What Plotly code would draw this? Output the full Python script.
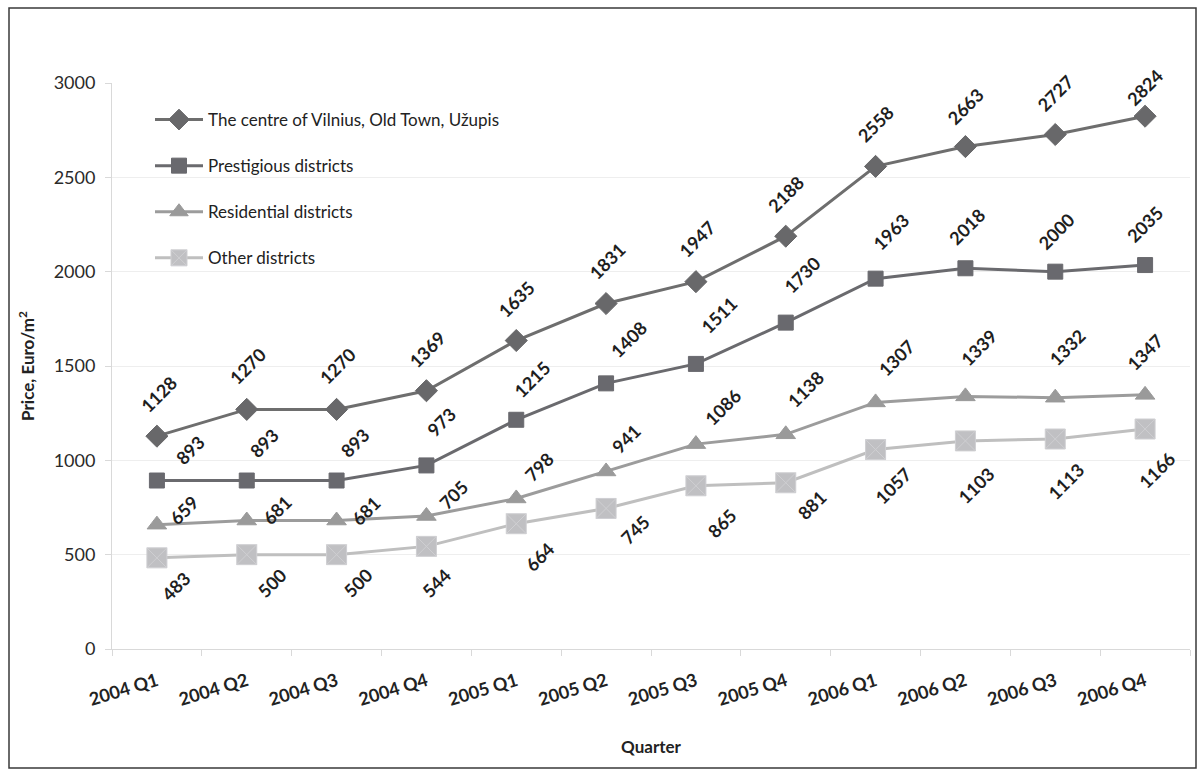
import plotly.graph_objects as go

# Average asking prices of flats in Vilnius, Euro per square metre
quarters = ["2004 Q1", "2004 Q2", "2004 Q3", "2004 Q4",
            "2005 Q1", "2005 Q2", "2005 Q3", "2005 Q4",
            "2006 Q1", "2006 Q2", "2006 Q3", "2006 Q4"]

centre = [1128, 1270, 1270, 1369, 1635, 1831, 1947, 2188, 2558, 2663, 2727, 2824]
prestigious = [893, 893, 893, 973, 1215, 1408, 1511, 1730, 1963, 2018, 2000, 2035]
residential = [659, 681, 681, 705, 798, 941, 1086, 1138, 1307, 1339, 1332, 1347]
other = [483, 500, 500, 544, 664, 745, 865, 881, 1057, 1103, 1113, 1166]

series_names = ["The centre of Vilnius, Old Town, Užupis",
                "Prestigious districts",
                "Residential districts",
                "Other districts"]

# Label nudges (screen pixels, dx right / dy down) for the rotated value labels
centre_dx = [2, 1, 1, 1, 0, 1, 1, 0, 0, 0, 0, 0]
centre_dy = [-42, -43, -43, -42, -42, -43, -43, -42, -42, -41, -42, -29]
prest_dx = [33, 17, 18, 15, 16, 23, 23, 16, 15, 2, 1, 0]
prest_dy = [-31, -38, -38, -43, -41, -44, -49, -48, -47, -42, -41, -41]
resid_dx = [27, 30, 29, 27, 23, 20, 27, 20, 21, 14, 12, 0]
resid_dy = [-15, -11, -10, -21, -31, -32, -37, -45, -44, -49, -51, -43]
other_dx = [19, 25, 21, 10, 23, 29, 26, 26, 17, 11, 11, 12]
other_dy = [28, 28, 28, 37, 33, 22, 37, 22, 36, 44, 42, 41]

styles = [
    dict(line="#6e6e6e", marker="#68686a", symbol="diamond", size=17),
    dict(line="#6a6a6e", marker="#69696e", symbol="square", size=15),
    dict(line="#9c9c9c", marker="#9a9a9a", symbol="triangle-up", size=17),
    dict(line="#bfbfbf", marker="#c0c0c3", symbol="square-x", size=20),
]

FONT = "Lato, 'Open Sans', sans-serif"

fig = go.Figure()
for i, (name, vals, st) in enumerate(zip(series_names,
                                          [centre, prestigious, residential, other],
                                          styles)):
    fig.add_trace(go.Scatter(
        x=quarters, y=vals, name=name, mode="lines+markers",
        legendgroup=f"g{i}",
        line=dict(color=st["line"], width=3),
        marker=dict(symbol=st["symbol"], size=st["size"], color=st["marker"],
                    line=dict(color="#cfcfd2" if st["symbol"] == "square-x" else st["marker"],
                              width=1)),
    ))

annotations = []
for vals, dxs, dys in [(centre, centre_dx, centre_dy),
                       (prestigious, prest_dx, prest_dy),
                       (residential, resid_dx, resid_dy),
                       (other, other_dx, other_dy)]:
    for q, v, dx, dy in zip(quarters, vals, dxs, dys):
        annotations.append(dict(
            x=q, y=v, xref="x", yref="y", text=str(v), showarrow=False,
            textangle=-45, xanchor="center", yanchor="middle",
            xshift=dx, yshift=-dy,
            font=dict(family=FONT, size=18, color="#1e1e1e", weight="bold"),
        ))

W, H = 1203, 776
ML, MR, MT, MB = 112, 13, 83, 127
pw, ph = W - ML - MR, H - MT - MB

def px_to_paper_x(px):
    return (px - ML) / pw

def px_to_paper_y(py):
    return (H - MB - py) / ph

fig.update_layout(
    width=W, height=H,
    margin=dict(l=ML, r=MR, t=MT, b=MB),
    paper_bgcolor="white", plot_bgcolor="white",
    font=dict(family=FONT, color="#222222"),
    showlegend=True,
    legend=dict(
        x=px_to_paper_x(150), y=px_to_paper_y(102), xanchor="left", yanchor="top",
        bgcolor="rgba(0,0,0,0)", font=dict(size=17, color="#222222"),
        tracegroupgap=21, traceorder="grouped", itemwidth=48,
    ),
    annotations=annotations,
    shapes=[dict(type="rect", xref="paper", yref="paper",
                 x0=px_to_paper_x(9), x1=px_to_paper_x(1196),
                 y0=px_to_paper_y(768), y1=px_to_paper_y(8),
                 line=dict(color="#3a3a3a", width=1.5), layer="below")],
    xaxis=dict(
        type="category", categoryorder="array", categoryarray=quarters,
        range=[-0.5, len(quarters) - 0.5], autorange=False,
        showline=True, linecolor="#d9d9d9", linewidth=1,
        ticks="outside", tickson="boundaries", ticklen=6, tickcolor="#d9d9d9",
        tickangle=-17, showgrid=False,
        tickfont=dict(family=FONT, size=18, color="#222222", weight="bold"),
        ticklabelstandoff=14,
        title=dict(text="Quarter", standoff=32,
                   font=dict(family=FONT, size=17, color="#222222", weight="bold")),
    ),
    yaxis=dict(
        range=[0, 3000], dtick=500, tick0=0,
        showline=True, linecolor="#d9d9d9", linewidth=1,
        ticks="outside", ticklen=6, tickcolor="#d9d9d9",
        showgrid=True, gridcolor="#eeeeee", gridwidth=1,
        zeroline=False,
        tickfont=dict(family=FONT, size=18, color="#2a2a2a"),
        ticklabelstandoff=6,
        title=dict(text="Price, Euro/m<sup>2</sup>", standoff=14,
                   font=dict(family=FONT, size=17, color="#222222", weight="bold")),
    ),
)

fig.write_html("out.html")
